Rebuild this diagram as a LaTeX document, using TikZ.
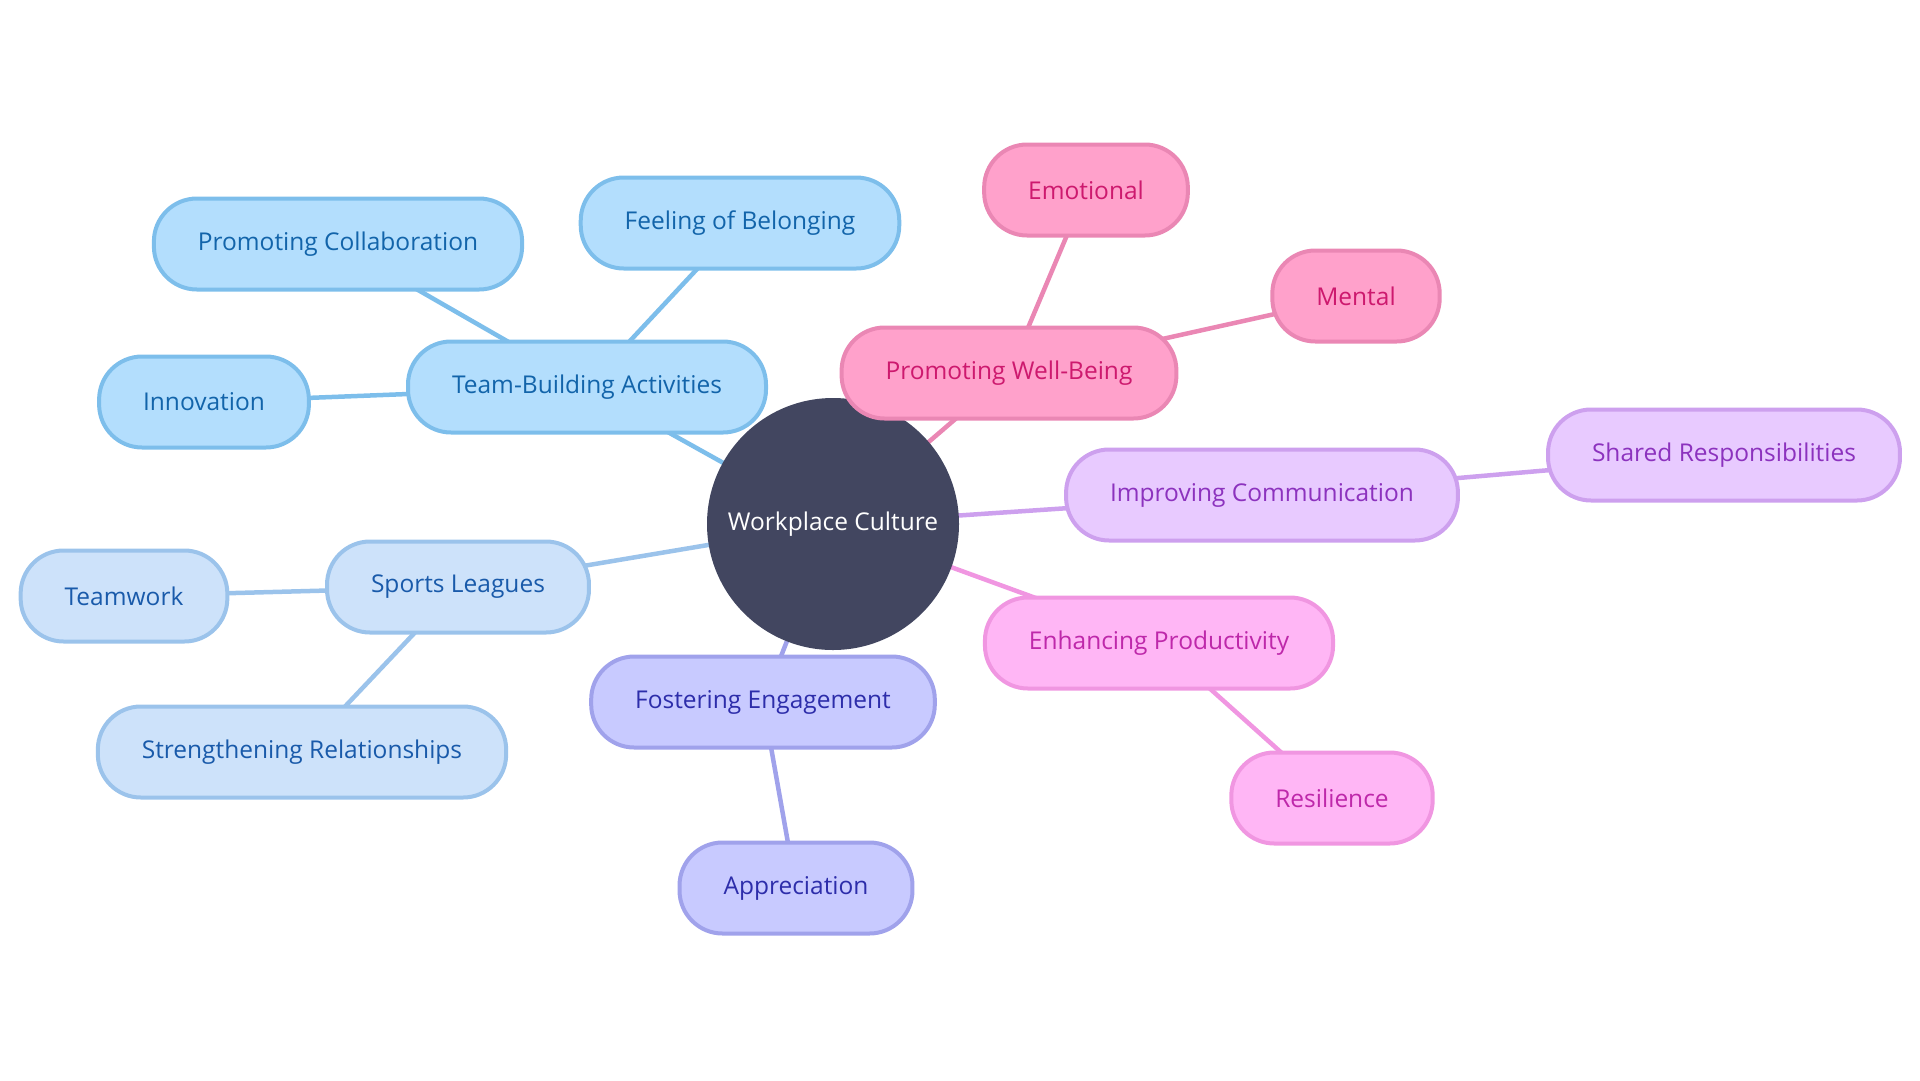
\documentclass[tikz,border=0pt]{standalone}
\usepackage{fontspec}
\setmainfont{Open Sans}
\usetikzlibrary{backgrounds}

% Colours
\definecolor{hub}{HTML}{424660}
\definecolor{tbFill}{RGB}{179,222,253}
\definecolor{tbLine}{RGB}{125,190,235}
\definecolor{tbText}{RGB}{18,100,170}
\definecolor{slFill}{RGB}{205,226,250}
\definecolor{slLine}{RGB}{155,195,235}
\definecolor{slText}{RGB}{25,90,170}
\definecolor{feFill}{RGB}{200,202,255}
\definecolor{feLine}{RGB}{160,162,235}
\definecolor{feText}{RGB}{45,45,170}
\definecolor{wbFill}{RGB}{255,161,203}
\definecolor{wbLine}{RGB}{234,135,180}
\definecolor{wbText}{RGB}{205,25,110}
\definecolor{icFill}{RGB}{232,202,255}
\definecolor{icLine}{RGB}{205,160,238}
\definecolor{icText}{RGB}{140,50,190}
\definecolor{epFill}{RGB}{255,182,245}
\definecolor{epLine}{RGB}{240,150,225}
\definecolor{epText}{RGB}{190,40,170}

\begin{document}
\begin{tikzpicture}[x=1pt,y=-1pt,
  box/.style={rectangle, rounded corners=43pt, line width=4pt,
    minimum height=91pt, inner xsep=44pt, font=\fontsize{24.5}{29}\selectfont},
  teambox/.style={box, draw=tbLine, fill=tbFill, text=tbText},
  sportbox/.style={box, draw=slLine, fill=slFill, text=slText},
  engagebox/.style={box, draw=feLine, fill=feFill, text=feText},
  wellbox/.style={box, draw=wbLine, fill=wbFill, text=wbText},
  commbox/.style={box, draw=icLine, fill=icFill, text=icText},
  prodbox/.style={box, draw=epLine, fill=epFill, text=epText},
  link/.style={line width=4.5pt}]

\useasboundingbox (0,0) rectangle (1920,1080);

% Centre
\node[circle, fill=hub, text=white, minimum size=252pt,
  font=\fontsize{24.5}{29}\selectfont] (wc) at (833,524) {Workplace Culture};

% Team-building branch
\node[teambox] (tba) at (587,387) {Team-Building Activities};
\node[teambox] (pc) at (338,244) {Promoting Collaboration};
\node[teambox] (fb) at (740,223) {Feeling of Belonging};
\node[teambox] (inn) at (204,402) {Innovation};

% Sports branch
\node[sportbox] (sl) at (458,587) {Sports Leagues};
\node[sportbox] (tw) at (124,596) {Teamwork};
\node[sportbox] (sr) at (302,752) {Strengthening Relationships};

% Engagement branch
\node[engagebox] (fe) at (763,702) {Fostering Engagement};
\node[engagebox] (ap) at (796,888) {Appreciation};

% Well-being branch
\node[wellbox] (pwb) at (1009,373) {Promoting Well-Being};
\node[wellbox] (emo) at (1086,190) {Emotional};
\node[wellbox] (men) at (1356,296) {Mental};

% Communication branch
\node[commbox] (ic) at (1262,495) {Improving Communication};
\node[commbox] (sh) at (1724,455) {Shared Responsibilities};

% Productivity branch
\node[prodbox] (ep) at (1159,643) {Enhancing Productivity};
\node[prodbox] (res) at (1332,798) {Resilience};

% Links
\begin{scope}[on background layer]
\draw[link, tbLine] (wc.center) -- (tba.center) -- (pc.center);
\draw[link, tbLine] (tba.center) -- (fb.center);
\draw[link, tbLine] (tba.center) -- (inn.center);
\draw[link, slLine] (wc.center) -- (sl.center) -- (tw.center);
\draw[link, slLine] (sl.center) -- (sr.center);
\draw[link, feLine] (wc.center) -- (fe.center) -- (ap.center);
\draw[link, wbLine] (wc.center) -- (pwb.center) -- (emo.center);
\draw[link, wbLine] (pwb.center) -- (men.center);
\draw[link, icLine] (wc.center) -- (ic.center) -- (sh.center);
\draw[link, epLine] (wc.center) -- (ep.center) -- (res.center);
\end{scope}

\end{tikzpicture}
\end{document}
